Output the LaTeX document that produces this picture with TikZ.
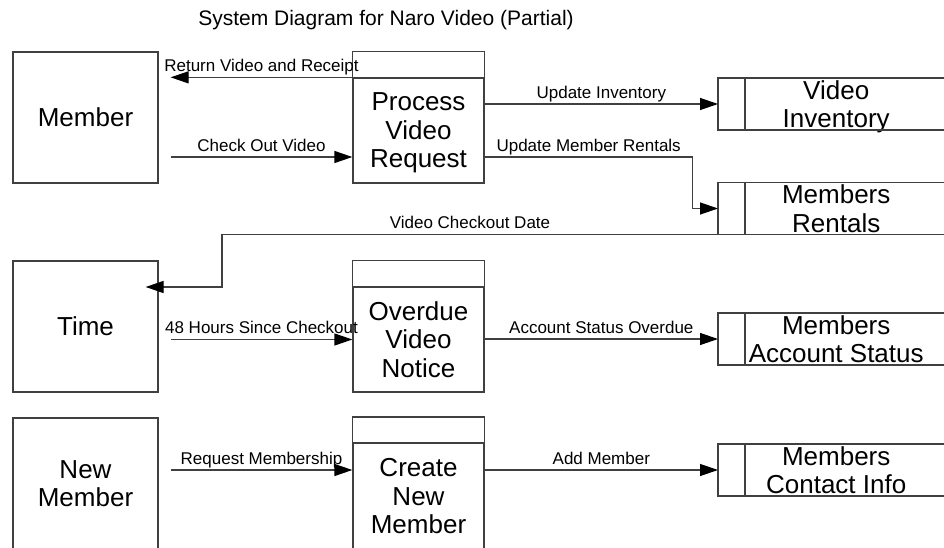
\documentclass[tikz,border=0pt]{standalone}
\usepackage{fontspec}
\setmainfont{Liberation Sans}
\usepackage{tikz}
\usetikzlibrary{arrows.meta}
\usepackage{xcolor}
\definecolor{ColLine}{RGB}{64,64,64}
\definecolor{ColText}{RGB}{0,0,0}
\tikzstyle{NodeEntity}=[rectangle,draw=ColLine,line width=1.3pt,minimum width=145pt,
minimum height=131pt,align=center,text depth=0pt,text=ColText,font=\fontsize{26}{28.5}\selectfont]
\tikzstyle{NodeProcess}=[rectangle,draw=ColLine,line width=1.3pt,minimum width=131pt,
minimum height=105pt,inner sep=0pt,align=center,text depth=0pt,text=ColText,
font=\fontsize{26}{28.5}\selectfont]
\tikzstyle{NodeStore}=[rectangle,anchor=west,minimum width=236pt,minimum height=52pt,
inner sep=0pt,align=center,text depth=0pt,text=ColText,font=\fontsize{26}{28.5}\selectfont]
\tikzstyle{EdgeBox}=[ColLine,line width=1.3pt]
\tikzstyle{EdgeFlow}=[ColLine,line width=1.3pt,-{Triangle[length=18pt,width=12pt,color=black]}]
\tikzstyle{LabelFlow}=[above,inner sep=1pt,text depth=4pt,text=ColText,
font=\fontsize{17}{19}\selectfont]

\begin{document}
\begin{tikzpicture}[x=1pt,y=-1pt]
        \useasboundingbox(0,0)rectangle(944,548);
        \node[anchor=base,text=ColText,font=\fontsize{21}{25}\selectfont](title)at(386,26)
            {System Diagram for Naro Video (Partial)};
        % external entities
        \node[NodeEntity](mem)at(85.5,117.5){Member};
        \node[NodeEntity](tim)at(85.5,326.5){Time};
        \node[NodeEntity](nmem)at(85.5,483.5){New\\Member};
        % processes
        \node[NodeProcess](pvr)at(418.5,130.5){Process\\Video\\Request};
        \node[NodeProcess](ovn)at(418.5,339.5){Overdue\\Video\\Notice};
        \node[NodeProcess](cnm)at(418.5,496){Create\\New\\Member};
        \foreach \p in {pvr,ovn,cnm}
            \draw[EdgeBox]([yshift=26pt]\p.north west)rectangle(\p.north east);
        % data stores
        \node[NodeStore](vi)at(718,104){Video\\Inventory};
        \node[NodeStore](mr)at(718,208.5){Members\\Rentals};
        \node[NodeStore](mas)at(718,339){Members\\Account Status};
        \node[NodeStore](mci)at(718,470){Members\\Contact Info};
        \foreach \s in {vi,mr,mas,mci}{
            \draw[EdgeBox]([shift={(226pt,26pt)}]\s.west)--([yshift=26pt]\s.west)
                --([yshift=-26pt]\s.west)--([shift={(226pt,-26pt)}]\s.west);
            \draw[EdgeBox]([shift={(27pt,26pt)}]\s.west)--([shift={(27pt,-26pt)}]\s.west);
        }
        % flows
        \coordinate(mo)at([xshift=12pt]mem.east);
        \coordinate(to)at([xshift=12pt]tim.east);
        \coordinate(no)at([xshift=12pt]nmem.east);
        \coordinate(co)at([yshift=-26.5pt]pvr.west);
        \coordinate(ti)at([shift={(-13pt,39.5pt)}]tim.east);
        \draw[EdgeFlow](pvr.north west)--node[LabelFlow]{Return Video and Receipt}(mo|-pvr.north west);
        \draw[EdgeFlow](mo|-co)--node[LabelFlow]{Check Out Video}(co);
        \draw[EdgeFlow](pvr.east|-vi.west)--node[LabelFlow]{Update Inventory}(vi.west);
        \draw[EdgeFlow](co-|pvr.east)--node[LabelFlow]{Update Member Rentals}++(208,0)|-(mr.west);
        \draw[EdgeFlow]([yshift=-26pt]mr.west)--node[LabelFlow]{Video Checkout Date}++(-496,0)|-(ti);
        \draw[EdgeFlow](to|-ovn.west)--node[LabelFlow]{48 Hours Since Checkout}(ovn.west);
        \draw[EdgeFlow](ovn.east|-mas.west)--node[LabelFlow]{Account Status Overdue}(mas.west);
        \draw[EdgeFlow](no|-mci.west)--node[LabelFlow]{Request Membership}(cnm.west|-mci.west);
        \draw[EdgeFlow](cnm.east|-mci.west)--node[LabelFlow]{Add Member}(mci.west);
    \end{tikzpicture}
\end{document}
